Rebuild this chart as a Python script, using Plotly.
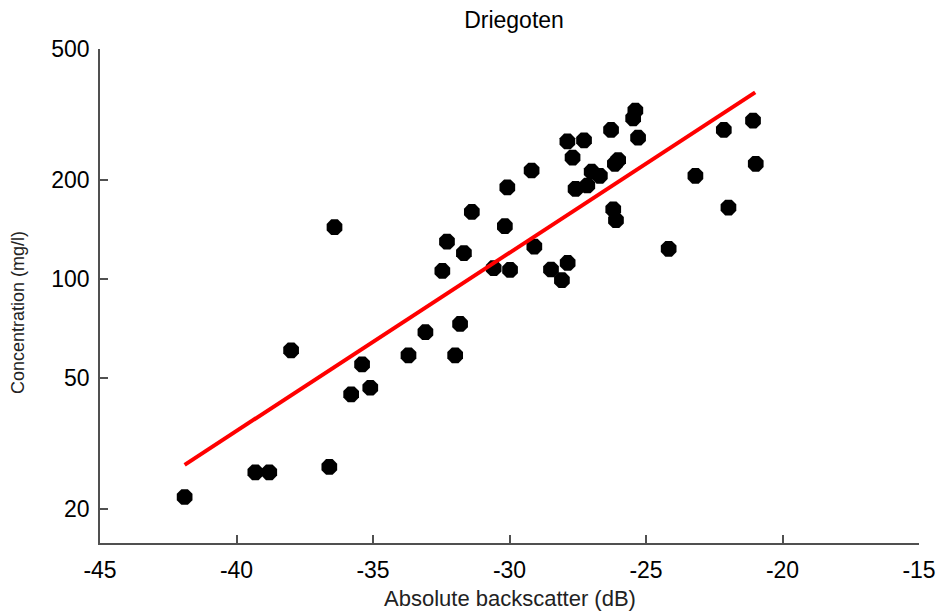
import plotly.graph_objects as go

# Absolute backscatter (dB) and concentration (mg/l)
backscatter = [-41.90, -39.31, -38.80, -36.60, -38.00, -35.40, -35.80, -35.10, -33.70, -33.08,
               -31.99, -31.81, -36.41, -32.46, -32.29, -31.67, -31.38, -30.08, -30.17, -30.58,
               -29.98, -29.19, -29.09, -28.48, -28.08, -27.87, -27.88, -27.27, -27.69, -27.58,
               -27.15, -26.99, -26.69, -26.28, -26.20, -26.10, -26.02, -26.14, -25.47, -25.39,
               -25.29, -24.17, -23.19, -22.15, -21.08, -20.98, -21.98]
concentration = [21.8, 25.9, 25.9, 26.9, 60.8, 55.1, 44.7, 46.8, 58.7, 69.0,
                 58.7, 73.1, 143.8, 105.9, 130.0, 120.0, 160.0, 190.0, 144.8, 108.0,
                 106.7, 213.8, 125.6, 107.0, 99.3, 112.0, 262.0, 264.0, 234.0, 188.0,
                 192.5, 212.0, 206.0, 284.0, 163.0, 151.0, 230.0, 224.0, 308.0, 325.0,
                 269.0, 123.6, 206.0, 284.0, 303.0, 224.0, 165.0]

# Regression line end points
fit_x = [-41.9, -21.0]
fit_y = [27.3, 369.0]

x_ticks = [-45, -40, -35, -30, -25, -20, -15]
y_ticks = [20, 50, 100, 200, 500]

FONT = "Liberation Sans, Arial, sans-serif"
AXIS_COLOR = "#505050"

W, H = 939, 615

fig = go.Figure()
fig.add_trace(go.Scatter(
    x=backscatter, y=concentration, mode="markers",
    marker=dict(symbol="octagon", size=17, color="black", line=dict(width=0)),
    showlegend=False, hoverinfo="x+y"))
fig.add_trace(go.Scatter(
    x=fit_x, y=fit_y, mode="lines",
    line=dict(color="#ff0000", width=4), showlegend=False))

fig.update_layout(
    width=W, height=H,
    margin=dict(l=100, r=20, t=49, b=72, autoexpand=False),
    paper_bgcolor="white", plot_bgcolor="white",
    font=dict(family=FONT, color="black"),
    title=dict(text="Driegoten", x=514 / W, xanchor="center",
               y=1 - 20 / H, yanchor="middle",
               yref="container", xref="container", font=dict(size=23, color="black")),
    annotations=[
        dict(text="Absolute backscatter (dB)", xref="paper", yref="paper",
             x=0.5, y=-55 / 494, xanchor="center", yanchor="middle", showarrow=False,
             font=dict(size=22, color="#222222")),
        dict(text="Concentration (mg/l)", xref="paper", yref="paper",
             x=-82 / 819, y=(543 - 313) / 494, xanchor="center", yanchor="middle",
             showarrow=False, textangle=-90, font=dict(size=18, color="#222222")),
    ],
)
fig.update_xaxes(
    range=[-45, -15], tickmode="array", tickvals=x_ticks,
    ticktext=[str(v) for v in x_ticks], automargin=False,
    ticks="inside", ticklen=8, tickwidth=1.5, tickcolor=AXIS_COLOR,
    showline=True, linecolor=AXIS_COLOR, linewidth=1.5,
    showgrid=False, zeroline=False, tickfont=dict(size=23, color="black"),
    ticklabelstandoff=6,
)
fig.update_yaxes(
    type="log", range=[1.1987, 2.69897], tickmode="array", tickvals=y_ticks,
    ticktext=[str(v) for v in y_ticks], automargin=False,
    ticks="inside", ticklen=8, tickwidth=1.5, tickcolor=AXIS_COLOR,
    showline=True, linecolor=AXIS_COLOR, linewidth=1.5,
    showgrid=False, zeroline=False, tickfont=dict(size=23, color="black"),
    ticklabelstandoff=4,
)

fig.write_html(
    "out.html",
    config={"displayModeBar": False},
    post_script="document.body.style.margin='0';document.body.style.overflow='hidden';",
)
